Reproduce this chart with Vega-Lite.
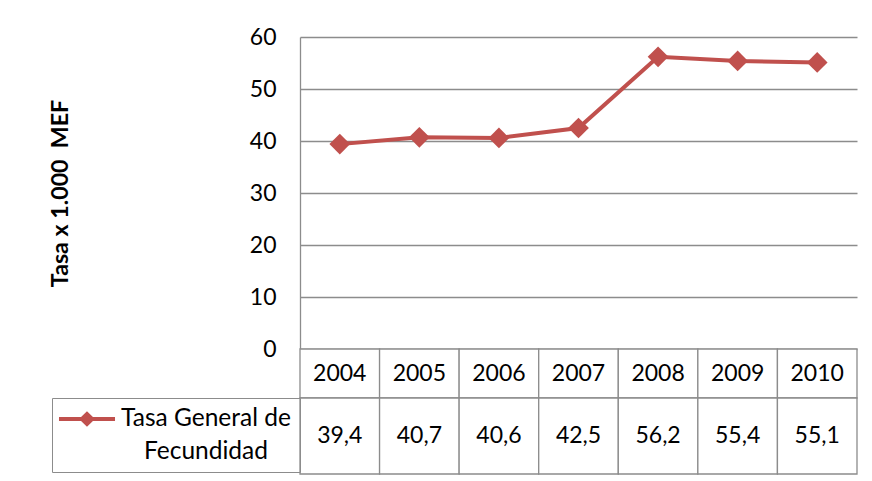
{
  "$schema": "https://vega.github.io/schema/vega-lite/v6.json",
  "autosize": {"type": "none"},
  "padding": {"left": 300, "top": 37, "right": 572, "bottom": 444},
  "background": "white",
  "config": {
    "font": "Lato",
    "view": {"stroke": null},
    "locale": {"number": {"decimal": ",", "thousands": ".", "grouping": [3], "currency": ["", " €"]}}
  },
  "datasets": {
    "tgf": [
      {"anio": "2004", "tasa": 39.4, "serie": "Tasa General de Fecundidad"},
      {"anio": "2005", "tasa": 40.7, "serie": "Tasa General de Fecundidad"},
      {"anio": "2006", "tasa": 40.6, "serie": "Tasa General de Fecundidad"},
      {"anio": "2007", "tasa": 42.5, "serie": "Tasa General de Fecundidad"},
      {"anio": "2008", "tasa": 56.2, "serie": "Tasa General de Fecundidad"},
      {"anio": "2009", "tasa": 55.4, "serie": "Tasa General de Fecundidad"},
      {"anio": "2010", "tasa": 55.1, "serie": "Tasa General de Fecundidad"}
    ]
  },
  "vconcat": [
    {
      "width": 557,
      "height": 312,
      "data": {"name": "tgf"},
      "mark": {
        "type": "line",
        "color": "#C0504D",
        "strokeWidth": 4,
        "point": {"shape": "diamond", "filled": true, "size": 430, "color": "#C0504D"}
      },
      "encoding": {
        "x": {"field": "anio", "type": "ordinal", "scale": {"type": "point", "padding": 0.5}, "axis": null},
        "y": {
          "field": "tasa",
          "type": "quantitative",
          "scale": {"domain": [0, 60], "nice": false, "zero": true},
          "axis": {
            "values": [0, 10, 20, 30, 40, 50, 60],
            "title": "Tasa x 1.000\u00a0 MEF",
            "titleFontSize": 23.2,
            "titleFontWeight": "bold",
            "titleColor": "#000000",
            "titlePadding": 177,
            "labelFontSize": 23,
            "labelColor": "#000000",
            "labelPadding": 24,
            "ticks": false,
            "grid": true,
            "gridColor": "#8c8c8c",
            "gridWidth": 1.3,
            "domain": true,
            "domainColor": "#8c8c8c",
            "domainWidth": 1.3
          }
        }
      }
    },
    {
      "width": 557,
      "height": 49,
      "data": {"name": "tgf"},
      "encoding": {
        "x": {"field": "anio", "type": "ordinal", "scale": {"type": "band", "paddingInner": 0, "paddingOuter": 0}, "axis": null}
      },
      "layer": [
        {"mark": {"type": "rect", "fill": "white", "stroke": "#8c8c8c", "strokeWidth": 1.3}},
        {"mark": {"type": "text", "fontSize": 23, "color": "#000000", "baseline": "middle"}, "encoding": {"text": {"field": "anio"}}}
      ]
    },
    {
      "width": 557,
      "height": 76,
      "data": {"name": "tgf"},
      "encoding": {
        "x": {"field": "anio", "type": "ordinal", "scale": {"type": "band", "paddingInner": 0, "paddingOuter": 0}, "axis": null}
      },
      "layer": [
        {"mark": {"type": "rect", "fill": "white", "stroke": "#8c8c8c", "strokeWidth": 1.3}},
        {"mark": {"type": "text", "fontSize": 23, "color": "#000000", "baseline": "middle"}, "encoding": {"text": {"field": "tasa", "type": "quantitative", "format": ".1f"}}},
        {
          "mark": {"type": "point", "filled": true, "opacity": 0},
          "encoding": {
            "color": {
              "field": "serie",
              "type": "nominal",
              "scale": {"range": ["#C0504D"]},
              "legend": {
                "orient": "left",
                "offset": 0,
                "title": null,
                "padding": 8.5,
                "strokeColor": "#8c8c8c",
                "symbolType": "M-1.085,-0.678L0.814,-0.678L0.814,-0.542L-1.085,-0.542Z M-0.136,-0.87L0.135,-0.61L-0.136,-0.35L-0.407,-0.61Z",
                "symbolSize": 3481,
                "symbolOpacity": 1,
                "labelFontSize": 24.5,
                "labelColor": "#000000",
                "labelAlign": "center",
                "labelOffset": 84.5,
                "labelLimit": 400,
                "labelExpr": "[slice(datum.label, 0, 15), slice(datum.label, 16)]",
                "encode": {"labels": {"update": {"lineHeight": {"value": 33}, "dy": {"value": -18}}}}
              }
            }
          }
        }
      ]
    }
  ],
  "spacing": 0,
  "bounds": "flush",
  "resolve": {"legend": {"color": "independent"}}
}
